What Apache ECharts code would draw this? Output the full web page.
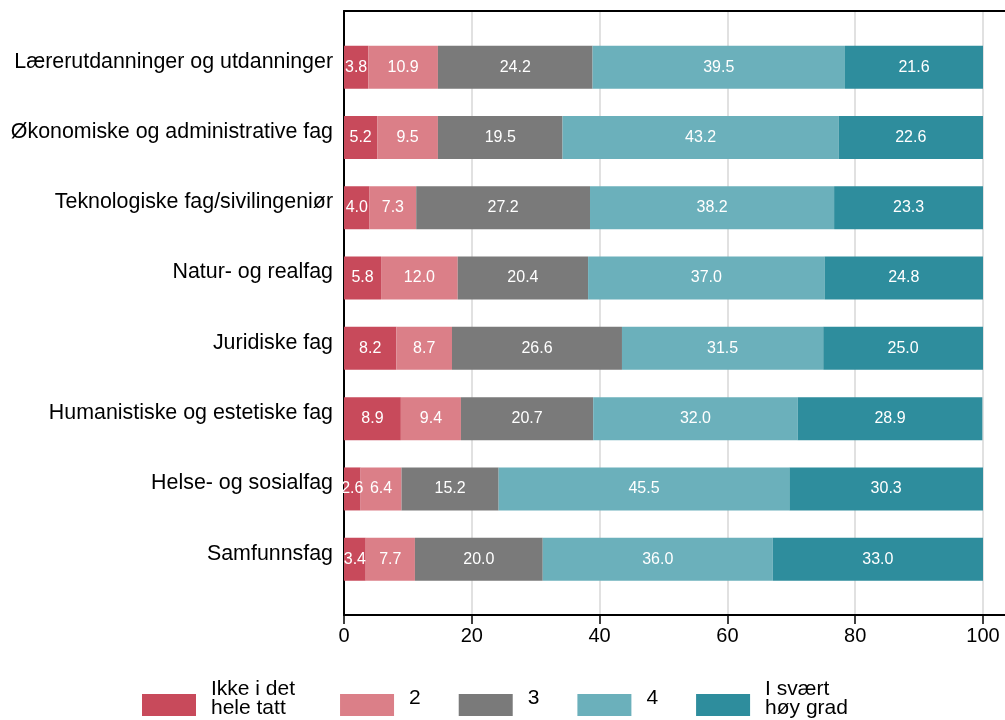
<!DOCTYPE html>
<html>
<head>
<meta charset="utf-8">
<script src="https://cdn.jsdelivr.net/npm/echarts@6/dist/echarts.min.js"></script>
<style>
  html, body { margin: 0; padding: 0; background: #fff; }
  #chart { width: 1005px; height: 720px; }
</style>
</head>
<body>
<div id="chart"></div>
<script>
// fagområder, ovenfra og ned
const categories = [
  'Lærerutdanninger og utdanninger',
  'Økonomiske og administrative fag',
  'Teknologiske fag/sivilingeniør',
  'Natur- og realfag',
  'Juridiske fag',
  'Humanistiske og estetiske fag',
  'Helse- og sosialfag',
  'Samfunnsfag'
]
const seriesNames = ['Ikke i det\nhele tatt', '2', '3', '4', 'I svært\nhøy grad']
const val1 = [3.8, 5.2, 4.0, 5.8, 8.2, 8.9, 2.6, 3.4]
const val2 = [10.9, 9.5, 7.3, 12.0, 8.7, 9.4, 6.4, 7.7]
const val3 = [24.2, 19.5, 27.2, 20.4, 26.6, 20.7, 15.2, 20.0]
const val4 = [39.5, 43.2, 38.2, 37.0, 31.5, 32.0, 45.5, 36.0]
const val5 = [21.6, 22.6, 23.3, 24.8, 25.0, 28.9, 30.3, 33.0]
const xTicks = [0, 20, 40, 60, 80, 100]

const colors = ['#c84a5b', '#db7f88', '#7a7a7a', '#6bb0bb', '#2e8d9d']
const font = 'Liberation Sans, Arial, sans-serif'

const chart = echarts.init(document.getElementById('chart'))

const values = [val1, val2, val3, val4, val5]
const series = values.map((v, i) => ({
  name: seriesNames[i],
  type: 'bar',
  stack: 'total',
  xAxisIndex: 3,
  yAxisIndex: 2,
  barWidth: 43,
  itemStyle: { color: colors[i] },
  label: {
    show: true,
    position: 'inside',
    color: '#fff',
    fontSize: 16,
    fontFamily: font,
    formatter: p => p.value.toFixed(1)
  },
  data: v
}))

// legendtekst: litt over midten av fargeboksen (tom linje under skyver teksten opp)
const legendText = { fontSize: 21, color: '#000', lineHeight: 19, fontFamily: font }
function legendLabel(name) {
  const lines = name.split('\n')
  if (lines.length === 2) {
    const first = name === seriesNames[0] ? 'first' : 'txt'
    return `{${first}|${lines[0]}}\n{txt|${lines[1]}}\n{sp2| }`
  }
  return `{txt|${name}}\n{sp1| }`
}

const option = {
  animation: false,
  color: colors,
  textStyle: { fontFamily: font },
  grid: [
    // ramme
    { left: 344, right: 0, top: 11, bottom: 105 },
    // akse med merker og rutenett
    { left: 344, right: 22, top: 11, bottom: 105 },
    // søyler
    { left: 344, right: 22, top: 32, bottom: 125.6 }
  ],
  xAxis: [
    {
      gridIndex: 0, type: 'value', min: 0, max: 1, position: 'bottom',
      axisLine: { show: true, lineStyle: { color: '#000', width: 2 } },
      axisTick: { show: false }, axisLabel: { show: false }, splitLine: { show: false }
    },
    {
      gridIndex: 0, type: 'value', min: 0, max: 1, position: 'top',
      axisLine: { show: true, lineStyle: { color: '#000', width: 2 } },
      axisTick: { show: false }, axisLabel: { show: false }, splitLine: { show: false }
    },
    {
      gridIndex: 1, type: 'value', min: xTicks[0], max: xTicks[xTicks.length - 1],
      interval: xTicks[1] - xTicks[0], position: 'bottom',
      axisLine: { show: false },
      axisTick: { show: true, length: 9, lineStyle: { color: '#000', width: 1.5 } },
      axisLabel: { fontSize: 20, color: '#000', margin: 11, fontFamily: font },
      splitLine: { show: true, lineStyle: { color: '#e1e1e1', width: 2 } }
    },
    {
      gridIndex: 2, type: 'value', min: 0, max: 100, show: false
    }
  ],
  yAxis: [
    {
      gridIndex: 0, type: 'value', min: 0, max: 1, position: 'left',
      axisLine: { show: true, lineStyle: { color: '#000', width: 2 } },
      axisTick: { show: false }, axisLabel: { show: false }, splitLine: { show: false }
    },
    { gridIndex: 1, type: 'value', show: false },
    {
      gridIndex: 2, type: 'category', inverse: true, data: categories,
      axisLine: { show: false }, axisTick: { show: false },
      axisLabel: {
        margin: 11,
        formatter: v => `{c|${v}}`,
        rich: {
          c: { fontSize: 21.4, color: '#000', fontFamily: font, padding: [0, 0, 11, 0] }
        }
      }
    }
  ],
  legend: {
    left: 142,
    top: 679,
    padding: 0,
    itemWidth: 54,
    itemHeight: 22,
    itemGap: 38,
    icon: 'rect',
    textStyle: Object.assign({}, legendText, {
      rich: {
        txt: Object.assign({}, legendText, { padding: [0, 0, 0, 10] }),
        first: Object.assign({}, legendText, { padding: [0, 7, 0, 10] }),
        sp1: { fontSize: 10, lineHeight: 14 },
        sp2: { fontSize: 10, lineHeight: 12 }
      }
    }),
    formatter: legendLabel,
    data: seriesNames
  },
  series: series
}

chart.setOption(option)
</script>
</body>
</html>
